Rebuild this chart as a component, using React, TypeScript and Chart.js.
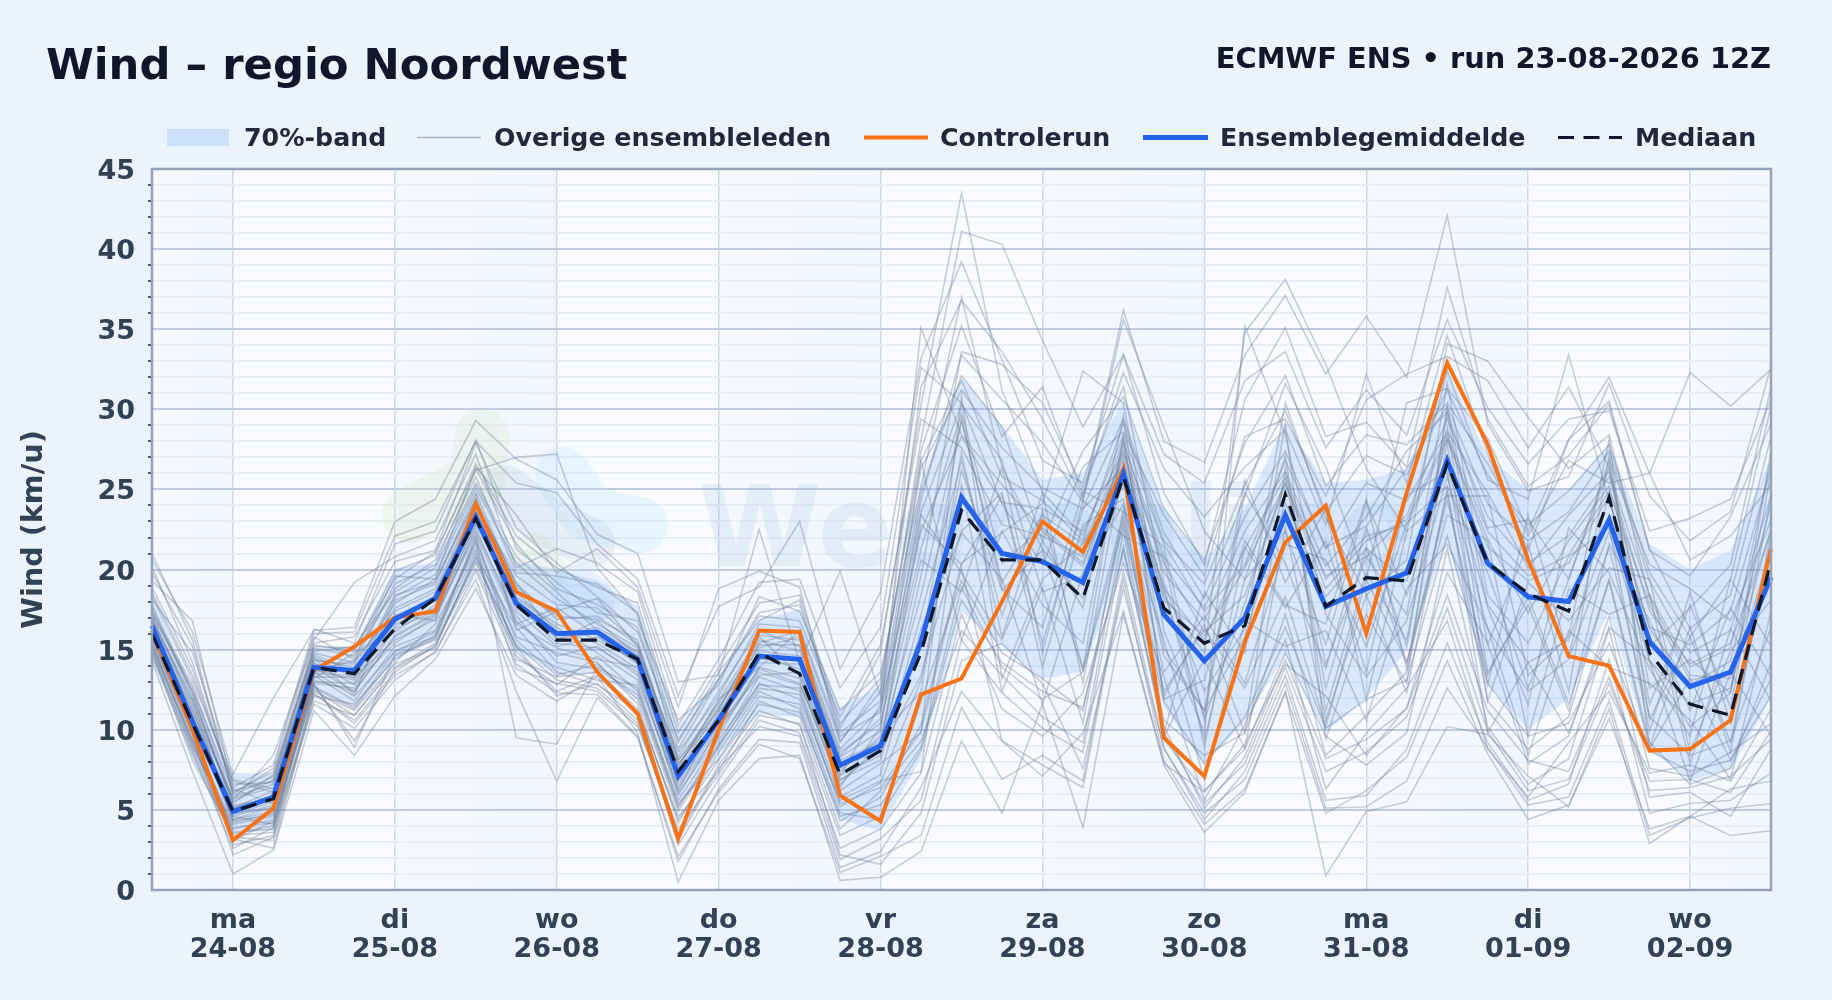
import React, { useEffect, useRef } from "react";
import { Chart, registerables } from "chart.js";

Chart.register(...registerables);

const dayNames = ["ma", "di", "wo", "do", "vr", "za", "zo", "ma", "di", "wo"];
const dayDates = ["24-08", "25-08", "26-08", "27-08", "28-08", "29-08", "30-08", "31-08", "01-09", "02-09"];
const shadedDaySteps = [[0, 2], [6, 10], [14, 18], [22, 26], [30, 34], [38, 40]];

const mean = [16.5,10.5,4.9,5.8,13.9,13.7,16.9,18.2,23.3,17.9,16,16.1,14.4,7.1,10.6,14.6,14.4,7.8,9,15.5,24.5,21,20.5,19.2,26,17.2,14.3,17,23.4,17.7,18.8,19.8,26.8,20.4,18.3,18,23.1,15.5,12.7,13.6,19.5];
const control = [16.2,10,3.1,5.1,13.7,15.2,17,17.4,24.1,18.6,17.4,13.6,11,3.2,10,16.2,16.1,5.9,4.3,12.2,13.2,18,23,21.1,26.3,9.5,7.1,15.5,21.7,24,16,24.8,32.9,27.8,20.6,14.6,14,8.7,8.8,10.6,21.3];
const median = [16,10.4,4.9,5.7,13.9,13.5,16.3,18.2,23.2,17.8,15.6,15.6,14.4,7.4,10.6,14.8,13.5,7.2,8.7,14.8,23.7,20.6,20.6,18.2,25.8,17.6,15.4,16.5,24.7,17.7,19.5,19.3,26.6,20.4,18.5,17.4,24.5,14.8,11.6,10.9,20.5];
const bandLow = [14.5,8.5,3.6,3.7,12.5,11.4,14.4,15.6,20.4,15,13.5,13.5,11.9,5.2,8.5,11,10.8,4.4,3.7,8.2,17.4,15.2,13.2,13.6,20.5,11.4,7.8,10.5,14.7,9.8,12,14.9,21.8,12.9,10,11.9,17.4,8.7,6.9,7.5,12];
const bandHigh = [18.5,12.5,7.3,7.3,15.1,15.2,20.1,20.4,25.4,20.5,20,19.3,17.7,10.2,13.3,16.9,17.5,11.4,12.7,25.5,32,29,25.6,26,30.6,23.7,20.5,23.8,29.2,25.4,25.6,26.3,32.5,27,25,25,27.8,21.6,20,21.2,27];

const member01 = [20.2,14.2,6.2,6.8,15.4,15.8,20.5,21.2,27.9,22.6,20.4,18.3,16.1,9.4,13.2,17.3,17.8,10.1,14.8,30.3,43.5,31.2,24.8,22.1,28.4,21.6,17.4,20.3,26.8,21.4,22.7,26.3,30.2,24.1,21.8,23.6,27.4,19.3,14.8,16.2,24.6];
const member02 = [17.8,12.3,5.4,7.2,14.8,14.2,19.1,20.3,26.2,27.0,27.2,20.1,17.2,8.1,11.6,15.4,16.2,9.3,12.4,28.1,41.1,40.3,34.3,28.9,33.4,24.8,20.3,30.6,35.1,28.3,29.2,26.4,37.6,29.4,25.2,27.1,30.3,21.2,19.6,23.3,29.1];
const member03 = [16.9,11.8,4.4,5.2,13.1,12.4,15.8,17.2,22.4,17.1,14.2,13.8,12.2,5.2,9.1,13.3,12.4,5.2,6.7,13.1,26.2,18.7,21.2,13.8,23.4,12.4,16.3,12.6,18.3,10.2,19.4,14.2,24.3,13.4,18.3,11.6,19.3,8.8,13.2,8.1,13.2];
const member04 = [15.2,9.2,3.8,4.4,12.6,11.3,14.6,15.6,20.4,15.3,13.1,12.6,10.4,3.3,7.8,11.2,10.3,3.4,4.6,8.7,18.1,14.2,12.4,11.4,21.2,10.2,5.1,8.3,14.4,8.2,9.4,11.3,18.4,11.2,8.1,7.4,13.3,6.2,6.4,7.1,9.4];
const member05 = [18.4,13.1,6.8,6.1,14.6,13.2,18.3,19.7,25.1,20.4,18.2,16.6,15.1,8.3,12.4,16.2,15.2,8.4,10.7,35.1,28.4,25.3,22.4,20.2,27.3,20.4,16.1,18.4,25.3,19.6,20.8,23.4,29.4,23.3,20.4,22.1,25.8,17.4,14.1,15.4,22.3];
const member06 = [14.8,8.8,3.2,2.6,12.3,10.4,13.4,14.8,19.9,14.1,12.3,12.2,9.6,1.8,6.3,9.4,9.2,1.4,2.4,6.4,12.4,9.3,7.8,6.4,19.4,8.1,4.1,6.3,12.3,4.8,6.2,8.3,14.3,8.5,4.4,5.3,10.7,3.8,4.6,3.4,3.7];
const member07 = [16.2,10.4,5.2,5.6,13.8,13.1,16.4,18.4,23.8,18.6,16.2,15.4,13.8,6.8,10.4,14.2,14.1,7.2,8.4,19.6,33.6,32.8,30.4,25.1,31.4,19.2,12.4,16.3,30.4,23.2,18.4,20.6,34.1,33,29.5,26.3,28.4,18.2,13.4,13.2,19.8];
const member08 = [17.1,11.4,4.6,4.1,14.2,12.8,17.2,16.8,24.6,16.2,17.4,18.2,15.2,7.6,11.8,15.8,13.4,6.4,10.2,24.3,33.4,30.6,27.9,24.2,35.6,28.9,22.4,19.4,22.4,15.3,24.2,18.4,26.4,17.8,14.2,15.6,22.4,14.3,10.2,12.3,27.4];
const member09 = [15.6,9.8,2.8,3.4,13.4,11.8,15.2,16.2,21.8,15.8,14.8,14.2,11.6,4.2,8.6,12.4,11.3,4.3,5.8,10.3,20.4,22.3,24.1,32.4,30.4,16.2,9.8,35.2,28.4,17.2,13.3,16.8,25.8,16.3,12.4,14.4,21.4,10.8,8.4,9.3,16.4];
const member10 = [19.3,16.8,6.4,7.8,16.3,15.4,21.6,22.4,28.1,21.3,19.2,17.3,16.8,10.6,12.8,18.3,17.4,11.2,13.6,25.2,37,26.4,21.3,18.2,25.4,18.4,14.8,34.8,38.1,32.8,26.3,22.4,32.4,25.6,24.4,33.4,24.3,16.4,15.3,17.4,26.3];
const member11 = [14.3,7.4,1.0,2.5,11.2,8.4,12.1,14.4,18.8,13.4,11.8,13.3,9.8,0.5,5.6,8.2,8.4,0.6,0.8,2.4,9.3,4.8,11.6,3.9,17.2,7.8,3.6,6.1,12.4,0.9,4.9,5.5,10.2,9.7,7.1,5.2,11.3,2.9,4.6,6.3,6.8];
const member12 = [16.7,11.2,5.8,6.6,14.1,13.7,17.6,18.8,24.1,19.2,15.6,16.8,14.6,7.9,10.9,15.3,15.3,8.1,9.2,18.4,29.3,19.2,23.4,21.6,26.8,14.6,11.2,15.8,24.2,18.3,21.3,19.3,28.2,21.4,19.3,20.4,24.6,14.3,11.6,12.6,21.4];
const member13 = [15.9,10.1,3.6,3.8,13.6,12.1,14.9,15.8,22.1,14.6,12.8,14.6,12.4,5.6,9.4,12.8,12.6,5.8,7.2,16.3,22.3,19.4,11.6,19.8,24.1,9.6,14.4,8.8,22.6,10.6,18.4,12.3,25.1,9.8,14.2,9.8,16.4,14.3,6.8,13.6,9.6];
const member14 = [18.9,13.8,6.3,5.4,15.1,14.6,18.8,20.6,25.8,19.8,19.6,19.1,17.3,9.2,13.6,16.8,18.1,9.8,11.8,26.3,31.2,27.6,25.1,23.8,29.4,22.3,18.2,24.6,31.6,26.4,19.4,30.4,31.3,28.2,22.4,28.1,30.5,21.3,16.3,18.4,28.3];
const member15 = [16.4,10.8,4.9,5.9,13.2,14.8,16.1,17.8,23.1,17.4,15.2,15.8,14.2,6.2,11.1,14.6,13.8,6.8,8.8,22.8,20.3,24.6,15.4,23.8,26.4,18.6,10.8,24.8,20.4,13.8,22.6,15.2,29.8,15.3,21.6,12.4,27.1,10.6,15.8,9.2,21.8];
const member16 = [15.1,9.4,4.2,4.8,12.8,9.3,13.8,15.2,20.8,16.4,13.6,12.8,11.2,4.6,7.4,11.8,10.8,3.8,6.2,9.3,16.2,13.4,10.8,9.2,22.4,9.4,6.2,8.8,14.8,9.6,7.8,9.8,21.3,10.2,6.6,8.2,16.3,5.8,6.1,4.6,8.8];
const member17 = [17.4,12.8,5.6,8.4,15.6,19.2,20.8,21.8,27.2,20.1,21.3,20.4,18.6,10.3,14.4,19.2,19.4,12.6,16.4,32.6,30.4,24.1,20.3,26.4,28.6,23.4,19.6,28.3,29.4,24.6,30.6,32.2,33.3,31.8,27.6,31.4,26.4,15.2,17.6,20.3,31.4];
const member18 = [16.1,10.2,4.6,5.3,12.9,12.6,16.3,17.4,22.8,18.2,16.4,14.8,13.1,6.4,9.9,13.6,12.8,7.4,9.6,12.4,27.3,15.8,23.6,13.8,28.4,12.1,16.6,9.8,26.3,12.6,21.4,14.2,23.4,21.8,9.6,18.8,17.2,18.4,7.9,16.3,11.8];
const member19 = [14.6,8.4,3.3,3.1,11.8,10.9,13.9,15.4,20.1,14.9,12.4,13.4,10.9,2.8,6.9,10.6,9.8,2.6,3.8,7.3,17.2,11.3,9.6,12.3,20.4,13.3,5.6,10.3,15.6,6.3,9.8,12.6,16.8,8.8,5.8,9.2,12.4,7.3,7.8,6.8,11.3];
const member20 = [21,15.6,5.9,7.1,15.8,14.4,19.6,19.4,26.4,23.4,19.8,21.3,18.9,11.4,18.8,19.9,18.9,9.2,12.9,27.4,35.2,28.3,31.4,24.6,32.3,26.3,23.3,26.4,28.7,22.8,32.2,25.4,34.6,27.2,21.2,28.1,32,26,20.6,22.1,25.3];
const member21 = [16.6,11.1,5.1,6.2,14.4,13.9,17.1,18.1,23.6,17.6,15.9,16.4,14.9,7.3,10.8,14.9,14.6,7.6,9.4,20.6,18.6,26.4,14.8,24.3,22.1,20.8,8.9,21.4,17.6,21.8,13.6,24.6,26.1,12.8,23.4,14.6,24.8,11.6,17.8,11.4,24.6];
const member22 = [15.4,9.1,3.9,4.2,12.4,11.2,14.2,16.6,21.3,15.1,13.9,13.1,12.8,5.4,8.2,12.1,11.6,4.8,4.4,11.8,19.3,14.8,13.2,11.2,23.1,10.6,8.4,9.8,17.2,8.4,10.9,13.6,24.8,11.8,8.8,10.8,19.4,9.2,6.6,7.6,14.2];
const member23 = [18.1,14.8,6.9,6.3,15.2,15.1,19.4,21.1,26.3,21.6,18.8,17.8,16.4,8.8,13.1,17.1,16.8,10.8,15.3,29.4,27.6,22.8,22.1,20.8,28.1,19.8,16.8,22.4,26.1,20.2,23.3,27.4,29.8,22.6,23.1,19.4,26.8,20.3,18.8,16.8,23.1];
const member24 = [16.3,10.6,4.4,4.9,13.3,13.3,15.6,16.9,22.6,16.8,14.6,15.2,13.4,6.1,9.6,13.9,13.2,6.2,7.9,9.8,30.8,13.2,19.4,21.6,25.6,9.8,18.6,14.8,29.1,9.4,17.2,12.9,30.2,17.6,11.6,22.6,19.8,13.8,9.6,19.4,15.2];
const member25 = [17.6,12.1,5.3,5.7,14.5,12.2,18.1,19.1,24.8,18.9,17.1,16.9,15.6,7.8,11.4,15.1,15.8,8.8,11.3,22.4,28.3,24.2,23.8,22.4,27.4,18.8,15.6,21.3,25.8,19.4,22.1,22.8,28.1,21.9,17.3,21.8,25.2,16.3,12.8,14.3,24.1];
const member26 = [15.7,9.6,2.2,3.3,12.1,11.6,14.4,15.9,21.1,13.8,12.9,12.4,10.2,3.8,7.2,10.9,10.4,2.2,1.6,4.8,14.3,15.4,12.9,7.6,18.8,8.9,4.4,7.4,13.4,5.6,5.9,8.8,15.4,9.2,5.6,6.6,14.4,4.8,5.4,5.6,7.3];
const member27 = [16.8,11.6,5.7,6.4,13.7,14.3,17.4,18.6,23.9,19.6,17.8,17.6,15.4,7.4,11.3,15.6,14.9,8.3,9.9,26.8,15.6,22.4,17.8,15.4,27.9,15.1,11.2,25.6,19.2,23.8,11.8,22.4,24.6,24.6,13.4,15.8,28.1,8.9,16.4,8.6,22.4];
const member28 = [15.3,8.9,4.1,4.6,12.7,11.4,14.9,16.1,21.6,15.6,13.4,14.1,11.9,4.9,8.9,12.9,11.9,5.6,6.8,7.4,25.3,12.4,18.9,10.4,23.8,15.6,6.9,16.8,15.2,16.2,10.6,18.8,21.6,16.4,8.4,16.2,13.9,12.9,10.6,6.9,17.4];
const member29 = [17.2,12.6,6.1,7.4,14.9,15.2,18.6,20.1,25.4,20.8,18.6,16.2,14.8,8.6,12.1,16.6,16.4,9.6,11.1,23.6,30.3,26.8,18.6,19.6,27.8,20.8,17.6,23.3,27.4,21.3,25.4,24.3,28.6,24.8,20.1,23.4,26.1,18.4,13.9,15.1,26.8];
const member30 = [16,10,4.8,5.1,13,12.9,15.4,17.1,22.2,16.6,15.1,14.4,13.9,6.6,10.2,13.4,13.6,6.9,8.1,17.2,26.8,17.1,24.8,12.9,26.7,18.9,9.4,19.4,27.1,11.2,19.8,15.6,28.9,13.6,17.8,11.2,21.6,16.8,11.2,17.6,13.3];
const member31 = [14.9,8.1,3.4,3.6,12.2,10.6,13.6,15.3,20.6,15.2,12.1,12.9,10.6,3.1,7.6,10.2,9.6,1.9,3.2,5.6,15.6,12.3,10.1,8.6,21.4,9.8,5.4,7.9,13.9,7.4,8.6,10.8,17.6,9.9,6.2,6.9,12.9,6.8,6.9,6.1,9.9];
const member32 = [18.6,13.4,6.6,6.7,15.3,14.9,19.9,20.9,26.6,22.1,20.1,18.9,17.9,9.8,13.9,17.9,18.4,10.4,13.2,26.8,31.8,25.8,24.3,21.8,29.1,21.8,19.1,25.3,29.9,23.6,27.1,25.9,31.2,25.9,22.8,24.9,27.8,19.8,15.8,19.4,30.2];
const member33 = [16.5,10.9,4.7,5.5,13.5,13.4,16.6,17.6,23.4,18.3,16.6,15.6,14.3,7.1,10.6,14.4,14.4,7.8,8.6,13.4,22.4,24.8,13.9,22.8,24.4,13.6,17.1,12.9,21.6,20.6,15.2,22.9,25.2,19.8,12.6,19.4,26.4,12.6,14.4,12.3,26.1];
const member34 = [15.5,9.3,3.1,4.3,12.5,10.9,14.1,15.1,20.9,14.4,13.3,13.6,11.3,4.4,8.1,11.6,11.1,4.6,5.3,8.9,18.9,13.9,11.9,13.6,22.8,11.8,7.9,10.8,16.4,10.1,11.9,13.1,22.1,12.9,9.6,10.4,15.4,8.7,7.4,8.1,12.1];
const member35 = [17,11.9,5.5,6.9,14.3,14.1,17.9,19.4,24.4,19.1,16.9,17.1,15.3,8.1,11.2,15.9,15.6,8.6,10.4,21.3,29.8,20.4,22.6,20.4,27.1,18.1,15.9,20.1,25.4,18.8,21.8,23.1,28.4,22.4,19.6,20.9,24.9,17.8,13.1,13.6,22.6];
const member36 = [16.4,10.7,4.3,4.7,13.9,12.4,15.9,17.3,22.9,17.9,15.4,15.1,13.6,5.9,10.1,13.8,12.9,6.6,9.1,23.4,19.8,15.6,21.8,17.6,29.6,11.9,13.1,21.8,17.8,16.6,24.4,13.8,27.9,11.8,19.2,16.8,20.1,19.4,8.6,14.9,18.1];
const member37 = [19.8,15.2,6,7.6,16,16.1,22.1,23,28,25.4,24.8,21.6,19.4,12.1,17.7,18.9,23,13.8,18.6,33.2,39.2,33.1,26.8,25.4,33.4,27.2,25.4,31.8,33.6,27.6,31.2,28.4,35.6,30.1,26.6,29.4,29.9,22.4,23.2,24.4,30.6];
const member38 = [15,8.6,2.6,3.9,11.6,10.1,13.1,14.9,19.4,12.4,6.8,12,9.5,2.1,6.1,9.1,8.2,1.1,2.1,3.4,11.4,6.9,8.4,6.8,19.9,8.8,4.8,6.9,12.9,5.1,5.2,6.8,12.6,8.9,5.3,5.8,11.8,3.4,4.5,5.1,5.4];
const member39 = [20.6,16.1,7.2,12,16.2,16.4,23,24.4,29.3,26.9,25.6,22.2,21,13,13.4,22.5,14.2,19.9,12.1,31.4,36.8,33.6,29.4,24.4,36.2,28,26.7,33.4,37.1,32.2,35.8,32,42.1,29.1,24.9,25.8,31.6,24.6,21.8,23.6,32.7];
const member40 = [16.6,10.3,5,5.8,13.6,13.8,16.8,18.3,23.2,18.1,15.7,16,14.6,7,10.7,14.7,14.3,7.7,8.9,15.2,29.4,18.8,16.4,24.9,23.6,21.4,10.6,17.9,25.6,14.1,20.8,17.2,31.6,18.4,15.4,20.8,22.6,9.9,18.6,10.4,20.2];
const member41 = [17.3,12.4,5.1,5.9,14.7,13.6,18.4,19.2,24.3,16.6,17.6,15.9,14.1,7.7,11.9,13.9,16.2,7.1,11.6,24.8,32.1,28.9,21.8,27.4,30.8,23.8,20.6,27.9,32.1,25.2,28.4,27.8,30.4,26.6,22.1,26.8,25.4,26,32.3,30.2,32.5];
const member42 = [15.8,9.9,3.5,4,12.9,8.9,14.7,15.7,21.9,9.5,9.1,13.9,12.6,5.1,9,12.6,12.2,5.4,6.4,9.9,20.1,9.3,7.1,9.8,17.4,7.9,6.1,9.1,14.1,12.1,8.4,11.4,19.8,15.4,7.9,9.6,17.1,7.6,7.1,8.6,10.4];

const members = [member01, member02, member03, member04, member05, member06, member07, member08, member09, member10, member11, member12, member13, member14, member15, member16, member17, member18, member19, member20, member21, member22, member23, member24, member25, member26, member27, member28, member29, member30, member31, member32, member33, member34, member35, member36, member37, member38, member39, member40, member41, member42];

const labels = mean.map((_, i) => (i % 4 === 2 ? [dayNames[(i - 2) / 4], dayDates[(i - 2) / 4]] : ""));

const FONT = '"DejaVu Sans", sans-serif';
const MEMBER_COLOR = "rgba(108,124,150,0.36)";
const CONTROL_COLOR = "#f97316";
const MEAN_COLOR = "#2563eb";
const MEDIAN_COLOR = "#0f172a";

const backdropPlugin = {
  id: "backdrop",
  beforeDraw(chart: any) {
    const { ctx, chartArea: a, scales } = chart;
    ctx.save();
    ctx.fillStyle = "#ebf3fc";
    ctx.fillRect(0, 0, chart.width, chart.height);
    ctx.fillStyle = "#f9fbff";
    ctx.fillRect(a.left, a.top, a.right - a.left, a.bottom - a.top);
    for (const [s, e] of shadedDaySteps) {
      const x0 = scales.x.getPixelForValue(s);
      const x1 = scales.x.getPixelForValue(e);
      const g = ctx.createLinearGradient(x0, 0, x1, 0);
      g.addColorStop(0, "rgba(219,234,254,0.12)");
      g.addColorStop(1, "rgba(219,234,254,0.24)");
      ctx.fillStyle = g;
      ctx.fillRect(x0, a.top, x1 - x0, a.bottom - a.top);
    }
    ctx.restore();
  },
  beforeDatasetsDraw(chart: any) {
    const { ctx } = chart;
    ctx.save();
    ctx.lineCap = "round";
    ctx.lineJoin = "round";
    const blob = (pts: number[][], color: string, w: number) => {
      ctx.beginPath();
      pts.forEach(([x, y], i) => (i ? ctx.lineTo(x, y) : ctx.moveTo(x, y)));
      ctx.strokeStyle = color;
      ctx.lineWidth = w;
      ctx.stroke();
    };
    blob([[482, 437], [478, 480], [410, 515]], "rgba(214,232,190,0.24)", 56);
    blob([[533, 555], [545, 572]], "rgba(214,232,190,0.24)", 44);
    blob([[563, 475], [590, 515], [640, 525]], "rgba(186,230,253,0.28)", 56);
    blob([[505, 490], [545, 520], [590, 543]], "rgba(148,178,205,0.16)", 50);
    blob([[575, 590], [590, 600]], "rgba(186,215,253,0.3)", 50);
    ctx.fillStyle = "rgba(125,175,205,0.15)";
    ctx.font = `600 112px ${FONT}`;
    ctx.textAlign = "left";
    ctx.textBaseline = "alphabetic";
    ctx.fillText("Weeronline", 698, 566);
    ctx.restore();
  },
  afterDatasetsDraw(chart: any) {
    const { ctx, chartArea: a } = chart;
    ctx.save();
    ctx.strokeStyle = "#94a3b8";
    ctx.lineWidth = 2.5;
    ctx.strokeRect(a.left, a.top, a.right - a.left, a.bottom - a.top);
    ctx.restore();
  },
  afterDraw(chart: any) {
    const { ctx } = chart;
    ctx.save();
    ctx.textBaseline = "alphabetic";
    ctx.textAlign = "left";
    ctx.fillStyle = "#0f172a";
    ctx.font = `bold 43.3px ${FONT}`;
    ctx.fillText("Wind – regio Noordwest", 46, 79);
    ctx.textAlign = "right";
    ctx.font = `bold 28.85px ${FONT}`;
    ctx.fillText("ECMWF ENS • run 23-08-2026 12Z", 1771, 68);

    ctx.textAlign = "left";
    ctx.font = `bold 25.3px ${FONT}`;
    ctx.fillStyle = "#1e293b";
    const baseline = 146;
    const lineY = 137.5;
    ctx.fillText("70%-band", 244, baseline);
    ctx.fillText("Overige ensembleleden", 494, baseline);
    ctx.fillText("Controlerun", 940, baseline);
    ctx.fillText("Ensemblegemiddelde", 1220, baseline);
    ctx.fillText("Mediaan", 1635, baseline);

    ctx.fillStyle = "#cde0f9";
    ctx.fillRect(167, 129, 62, 17);
    const seg = (x0: number, x1: number, color: string, w: number, dash: number[] = []) => {
      ctx.beginPath();
      ctx.setLineDash(dash);
      ctx.moveTo(x0, lineY);
      ctx.lineTo(x1, lineY);
      ctx.strokeStyle = color;
      ctx.lineWidth = w;
      ctx.stroke();
      ctx.setLineDash([]);
    };
    seg(417, 481, "rgba(100,116,139,0.45)", 1.6);
    seg(864, 928, CONTROL_COLOR, 4);
    seg(1143, 1208, MEAN_COLOR, 5);
    seg(1558, 1622, MEDIAN_COLOR, 3.2, [16, 9.5]);
    ctx.restore();
  },
};

export default function App() {
  const ref = useRef<HTMLCanvasElement | null>(null);
  useEffect(() => {
    if (!ref.current) return;
    document.body.style.margin = "0";
    const common = { pointRadius: 0, tension: 0, fill: false };
    const chart = new Chart(ref.current, {
      type: "line",
      data: {
        labels,
        datasets: [
          { label: "70%-band onder", data: bandLow, borderWidth: 0, borderColor: "transparent", pointRadius: 0, fill: false, order: 101 },
          { label: "70%-band", data: bandHigh, borderWidth: 0, borderColor: "transparent", pointRadius: 0, backgroundColor: "rgba(147,190,250,0.30)", fill: "-1", order: 100 },
          ...members.map((data, i) => ({ ...common, label: `Lid ${i + 1}`, data, borderColor: MEMBER_COLOR, borderWidth: 1.6, order: 50 })),
          { ...common, label: "Controlerun", data: control, borderColor: CONTROL_COLOR, borderWidth: 4, order: 3 },
          { ...common, label: "Ensemblegemiddelde", data: mean, borderColor: MEAN_COLOR, borderWidth: 5, order: 2 },
          { ...common, label: "Mediaan", data: median, borderColor: MEDIAN_COLOR, borderWidth: 3.2, borderDash: [16, 9.5], order: 1 },
        ],
      } as any,
      options: {
        responsive: false,
        animation: false,
        devicePixelRatio: 1,
        layout: { padding: { left: 17, right: 61, top: 169, bottom: 0 } },
        plugins: { legend: { display: false }, title: { display: false }, tooltip: { enabled: false } },
        scales: {
          x: {
            type: "category",
            offset: false,
            afterFit: (s: any) => { s.height = 110; },
            border: { display: false },
            grid: {
              drawTicks: false,
              lineWidth: 1.5,
              color: (c: any) => (c.index % 4 === 2 ? "#d0d8e5" : "transparent"),
            },
            ticks: {
              autoSkip: false,
              maxRotation: 0,
              minRotation: 0,
              padding: 16,
              color: "#334155",
              font: { family: FONT, size: 27, weight: "bold", lineHeight: 1.08 },
            },
          },
          y: {
            min: 0,
            max: 45,
            afterFit: (s: any) => { s.width = 135; },
            border: { display: false },
            title: {
              display: true,
              text: "Wind (km/u)",
              color: "#334155",
              padding: { top: 0, bottom: 0 },
              font: { family: FONT, size: 28.7, weight: "bold" },
            },
            grid: {
              lineWidth: 2,
              color: (c: any) => (c.tick && c.tick.value % 5 === 0 ? "#c0cbdf" : "#e9eef6"),
              tickColor: (c: any) => (c.tick && c.tick.value % 5 === 0 ? "transparent" : "#0f172a"),
              tickLength: 4,
              tickWidth: 1.4,
            },
            ticks: {
              stepSize: 1,
              autoSkip: false,
              padding: 13,
              labelOffset: 3,
              color: "#334155",
              font: { family: FONT, size: 27, weight: "bold" },
              callback: (v: any) => (Number(v) % 5 === 0 ? String(v) : ""),
            },
          },
        },
      } as any,
      plugins: [backdropPlugin],
    });
    return () => chart.destroy();
  }, []);
  return (
    <div style={{ position: "fixed", left: 0, top: 0, width: 1832, height: 1000, background: "#ebf3fc" }}>
      <canvas ref={ref} width={1832} height={1000} style={{ display: "block", width: 1832, height: 1000 }} />
    </div>
  );
}
